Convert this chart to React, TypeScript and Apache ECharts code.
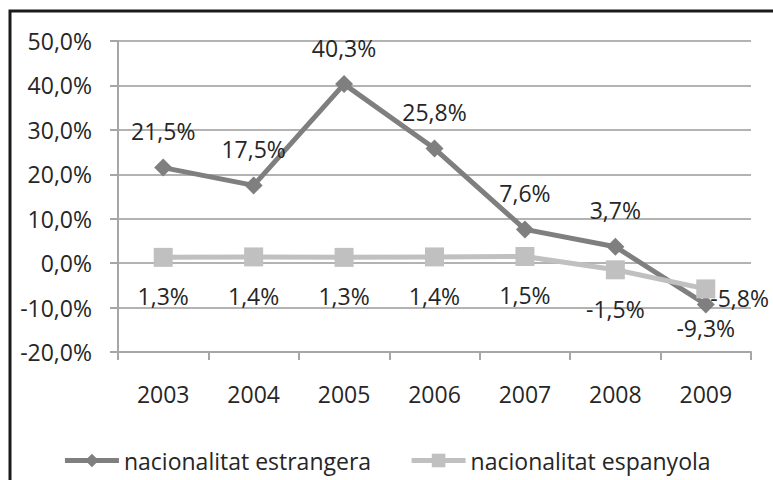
import React, { useEffect, useRef } from "react";
import * as echarts from "echarts";

const categories = ["2003", "2004", "2005", "2006", "2007", "2008", "2009"];
const estrangera = [21.5, 17.5, 40.3, 25.8, 7.6, 3.7, -9.3];
const espanyola = [1.3, 1.4, 1.3, 1.4, 1.5, -1.5, -5.8];
const seriesNames = ["nacionalitat estrangera", "nacionalitat espanyola"];

const fmt = (v: number) => v.toFixed(1).replace(".", ",") + "%";
const FONT = "Open Sans";
const TXT = "#262626";
const FS = 23;

export default function App() {
  const ref = useRef<HTMLDivElement>(null);
  useEffect(() => {
    const chart = echarts.init(ref.current!, null, { renderer: "svg" });
    chart.setOption({
      animation: false,
      textStyle: { fontFamily: FONT },
      graphic: [
        {
          type: "rect",
          shape: { x: 10, y: 11, width: 800, height: 500 },
          style: { fill: "none", stroke: "#1a1a1a", lineWidth: 3 },
          silent: true,
        },
      ],
      grid: { left: 118, right: 22, top: 41, bottom: 128, containLabel: false },
      legend: {
        bottom: 3,
        left: "center",
        itemWidth: 54,
        itemHeight: 17,
        itemGap: 38,
        lineStyle: { width: 5 },
        textStyle: { fontFamily: FONT, fontSize: FS, color: TXT },
        data: seriesNames,
      },
      xAxis: {
        type: "category",
        data: categories,
        boundaryGap: true,
        axisLine: { onZero: false, lineStyle: { color: "#a6a6a6", width: 2 } },
        axisTick: { show: true, length: 8, lineStyle: { color: "#a6a6a6", width: 2 } },
        axisLabel: { fontFamily: FONT, fontSize: FS, color: TXT, margin: 30 },
      },
      yAxis: {
        type: "value",
        min: -20,
        max: 50,
        interval: 10,
        axisLine: { show: true, lineStyle: { color: "#a6a6a6", width: 2 } },
        axisTick: { show: true, length: 8, lineStyle: { color: "#a6a6a6", width: 2 } },
        splitLine: { lineStyle: { color: "#b3b3b3", width: 2 } },
        axisLabel: { fontFamily: FONT, fontSize: FS, color: TXT, margin: 26, formatter: (v: number) => fmt(v) },
      },
      series: [
        {
          name: seriesNames[0],
          type: "line",
          data: estrangera.map((v, i) =>
            i === estrangera.length - 1
              ? { value: v, label: { position: "bottom", distance: 3 } }
              : v
          ),
          symbol: "diamond",
          symbolSize: 18,
          itemStyle: { color: "#7f7f7f" },
          lineStyle: { color: "#7f7f7f", width: 5 },
          label: {
            show: true,
            position: "top",
            distance: 16,
            fontFamily: FONT,
            fontSize: FS,
            color: TXT,
            formatter: (p: any) => fmt(p.value),
          },
          z: 2,
        },
        {
          name: seriesNames[1],
          type: "line",
          data: espanyola.map((v, i) =>
            i === espanyola.length - 1
              ? { value: v, label: { position: "right", distance: -5, offset: [0, 9] } }
              : v
          ),
          symbol: "rect",
          symbolSize: 19,
          itemStyle: { color: "#c0c0c0" },
          lineStyle: { color: "#c0c0c0", width: 5 },
          label: {
            show: true,
            position: "bottom",
            distance: 18,
            fontFamily: FONT,
            fontSize: FS,
            color: TXT,
            formatter: (p: any) => fmt(p.value),
          },
          z: 3,
        },
      ],
    });
    return () => chart.dispose();
  }, []);
  return (
    <div
      ref={ref}
      style={{ position: "fixed", left: 0, top: 0, width: 773, height: 480, background: "#fff" }}
    />
  );
}
